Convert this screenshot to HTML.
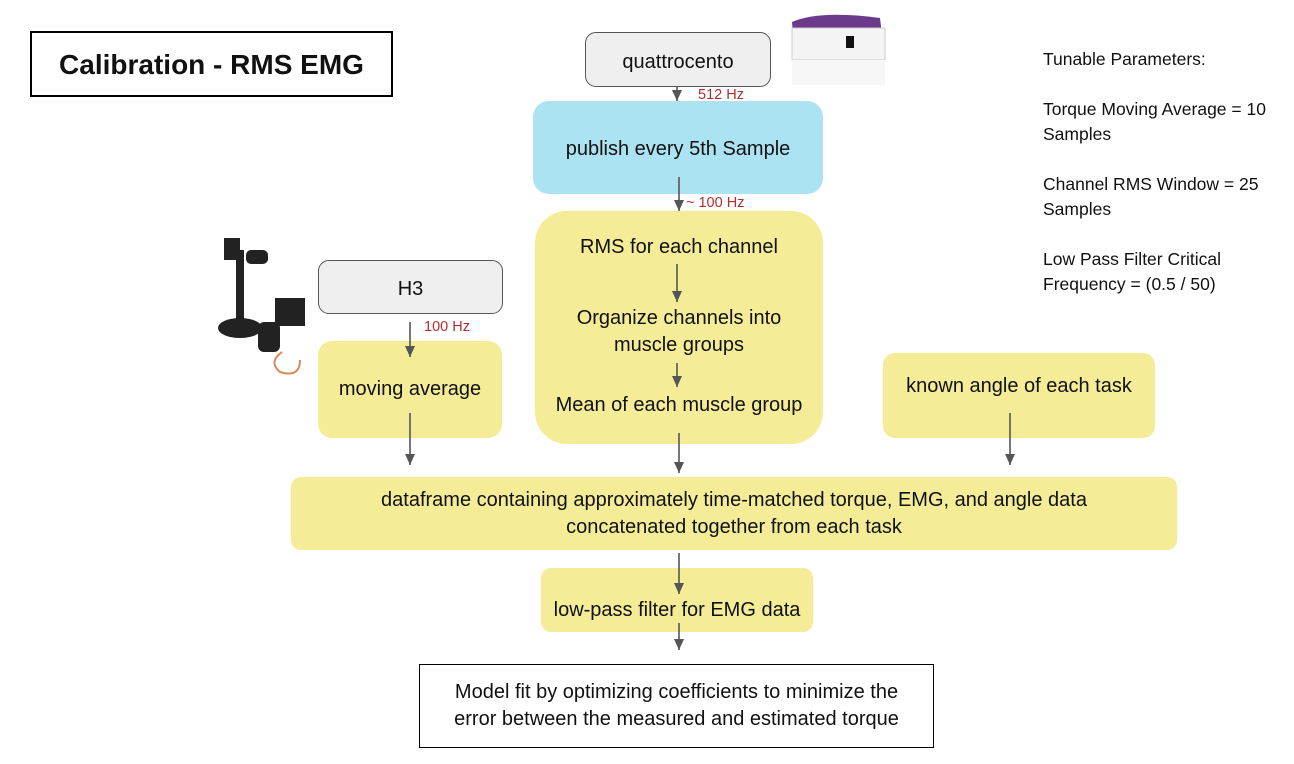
<!DOCTYPE html>
<html><head><meta charset="utf-8"><style>
body{margin:0;width:1294px;height:764px;background:#fff;position:relative;overflow:hidden;font-family:"Liberation Sans",sans-serif;color:#111}
.b{position:absolute;box-sizing:border-box;display:flex;align-items:center;justify-content:center;text-align:center;font-size:20px;line-height:27px}
.y{background:#f4ec96}
.g{background:#efefef;border:1.5px solid #555;border-radius:11px}
.t{position:absolute;font-size:17.5px;line-height:25px}
.r{position:absolute;color:#b03030;font-size:14.5px}
</style></head><body>
<div class="b" style="left:30px;top:31px;width:363px;height:66px;border:2px solid #000;font-weight:bold;font-size:28px">Calibration - RMS EMG</div>
<div class="b g" style="left:585px;top:32px;width:186px;height:55px;padding-top:6px">quattrocento</div>
<div class="b" style="left:533px;top:101px;width:290px;height:93px;background:#ace3f3;border-radius:16px;padding-top:4px">publish every 5th Sample</div>
<div class="b y" style="left:535px;top:211px;width:288px;height:233px;border-radius:32px"></div>
<div class="b" style="left:535px;top:232px;width:288px;height:30px">RMS for each channel</div>
<div class="b" style="left:535px;top:304px;width:288px;height:56px">Organize channels into<br>muscle groups</div>
<div class="b" style="left:535px;top:390px;width:288px;height:30px">Mean of each muscle group</div>
<div class="b g" style="left:318px;top:260px;width:185px;height:54px;padding-top:4px">H3</div>
<div class="b y" style="left:318px;top:341px;width:184px;height:97px;border-radius:14px">moving average</div>
<div class="b y" style="left:883px;top:353px;width:272px;height:85px;border-radius:12px;align-items:flex-start;padding-top:20px">known angle of each task</div>
<div class="b y" style="left:291px;top:477px;width:886px;height:73px;border-radius:10px">dataframe containing approximately time-matched torque, EMG, and angle data<br>concatenated together from each task</div>
<div class="b y" style="left:541px;top:568px;width:272px;height:64px;border-radius:10px;padding-top:20px">low-pass filter for EMG data</div>
<div class="b" style="left:419px;top:664px;width:515px;height:84px;border:1.5px solid #000">Model fit by optimizing coefficients to minimize the<br>error between the measured and estimated torque</div>
<div class="r" style="left:698px;top:87px">512 Hz</div>
<div class="r" style="left:686px;top:195px">~ 100 Hz</div>
<div class="r" style="left:424px;top:319px">100 Hz</div>
<div class="t" style="left:1043px;top:47px">Tunable Parameters:<br><br>Torque Moving Average = 10<br>Samples<br><br>Channel RMS Window = 25<br>Samples<br><br>Low Pass Filter Critical<br>Frequency = (0.5 / 50)</div>
<svg style="position:absolute;left:0;top:0" width="1294" height="764">
<defs><marker id="a" markerWidth="12" markerHeight="12" refX="11" refY="5" orient="auto" markerUnits="userSpaceOnUse"><path d="M0,0 L11,5 L0,10 Z" fill="#555"/></marker></defs>
<g stroke="#555" stroke-width="1.6" marker-end="url(#a)">
<line x1="677" y1="86" x2="677" y2="101"/>
<line x1="679" y1="177" x2="679" y2="211"/>
<line x1="677" y1="264" x2="677" y2="302"/>
<line x1="677" y1="363" x2="677" y2="387"/>
<line x1="679" y1="433" x2="679" y2="473"/>
<line x1="410" y1="322" x2="410" y2="357"/>
<line x1="410" y1="413" x2="410" y2="465"/>
<line x1="1010" y1="413" x2="1010" y2="465"/>
<line x1="679" y1="553" x2="679" y2="594"/>
<line x1="679" y1="623" x2="679" y2="650"/>
</g>
<g>
<path d="M792,22 Q820,10 880,18 L885,60 L795,60 Z" fill="#6b3a8a"/>
<rect x="792" y="28" width="93" height="32" fill="#f4f4f4" stroke="#ccc"/>
<rect x="846" y="36" width="8" height="12" fill="#111"/>
<rect x="792" y="60" width="93" height="25" fill="#f7f7f7"/>
</g>
<g fill="#222">
<rect x="224" y="238" width="16" height="22"/>
<rect x="236" y="250" width="8" height="70"/>
<rect x="246" y="250" width="22" height="14" rx="5"/>
<ellipse cx="240" cy="328" rx="22" ry="10"/>
<rect x="258" y="322" width="22" height="30" rx="6"/>
<rect x="275" y="298" width="30" height="28"/>
</g>
<path d="M282,352 Q268,362 280,372 Q300,378 300,360" stroke="#d88a5a" stroke-width="2" fill="none"/>
</svg>
</body></html>
